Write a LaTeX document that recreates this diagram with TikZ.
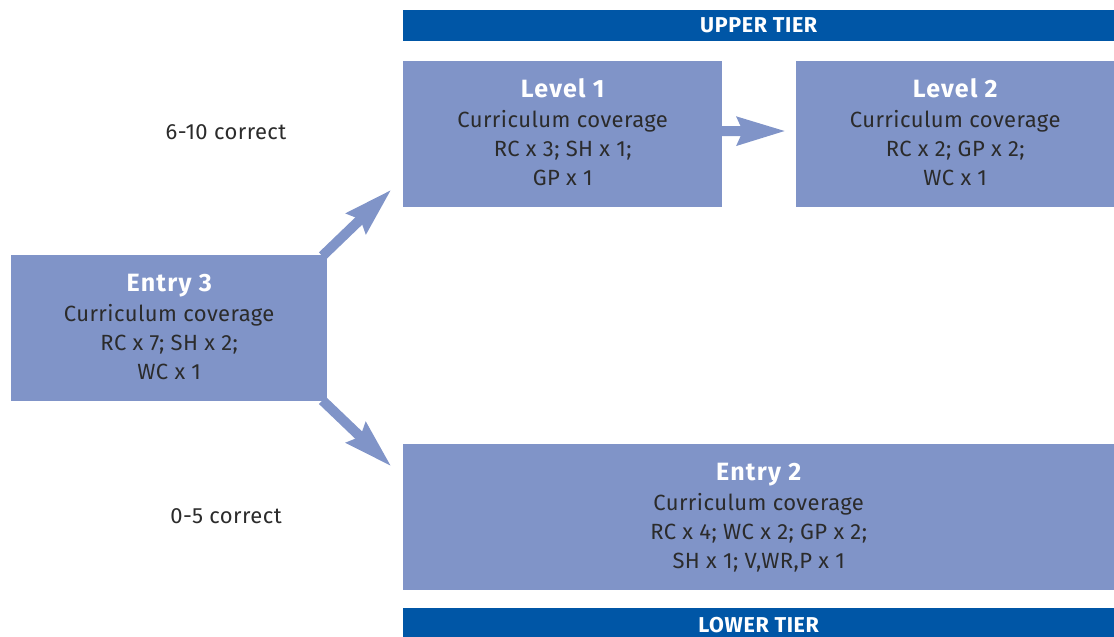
\documentclass[tikz,border=0pt]{standalone}
\usepackage{fontspec}
\setmainfont{Fira Sans}
\newfontfamily\bodyf[LetterSpace=2]{Fira Sans}
\newfontfamily\titlef[LetterSpace=5]{Fira Sans}
\newfontfamily\barf[LetterSpace=3]{Fira Sans}
\usetikzlibrary{arrows.meta}
\definecolor{boxblue}{RGB}{128,148,200}
\definecolor{barblue}{RGB}{0,86,166}
\definecolor{txtgray}{RGB}{43,43,43}
\tikzset{
  box/.style={fill=boxblue, draw=none, anchor=north west, align=center, text=txtgray,
    font=\bodyf\fontsize{22}{29}\selectfont, inner sep=0pt},
  bar/.style={fill=barblue, draw=none, anchor=north west, text=white,
    font=\barf\fontsize{21.5}{24}\selectfont\bfseries, inner sep=0pt},
  lbl/.style={text=txtgray, font=\bodyf\fontsize{22}{26}\selectfont},
  arr/.style={draw=boxblue, line width=10pt,
    -{Stealth[length=48pt, width=27pt, inset=5pt]}},
}
\newcommand{\ttl}[1]{\rule{0pt}{24pt}{\color{white}\titlef\fontsize{25}{30}\selectfont\bfseries #1}}
\newcommand{\lastl}[1]{#1\rule[-9.7pt]{0pt}{0pt}}
\begin{document}
\begin{tikzpicture}[x=1pt,y=-1pt]
\useasboundingbox (0,0) rectangle (1114,637);
\clip (0,0) rectangle (1114,637);
\node[bar, minimum width=711pt, minimum height=31pt] (ut) at (403,10) {UPPER TIER};
\node[bar, minimum width=711pt, minimum height=33pt] (lt) at (403,608) {LOWER TIER};
\node[box, minimum width=319pt, minimum height=146pt] (l1) at (403,61)
  {\ttl{Level 1}\\[1.4pt]Curriculum coverage\\RC x 3; SH x 1;\\\lastl{GP x 1}};
\node[box, minimum width=318pt, minimum height=146pt] (l2) at (796,61)
  {\ttl{Level 2}\\[1.4pt]Curriculum coverage\\RC x 2; GP x 2;\\\lastl{WC x 1}};
\node[box, minimum width=316pt, minimum height=146pt] (e3) at (11,255)
  {\ttl{Entry 3}\\[1.4pt]Curriculum coverage\\RC x 7; SH x 2;\\\lastl{WC x 1}};
\node[box, minimum width=711pt, minimum height=146pt] (e2) at (403,444)
  {\ttl{Entry 2}\\[1.4pt]Curriculum coverage\\RC x 4; WC x 2; GP x 2;\\\lastl{SH x 1; V,WR,P x 1}};
\node[lbl] (c1) at (226,132) {6-10 correct};
\node[lbl] (c2) at (226,516) {0-5 correct};
\coordinate (tu) at (391.5,189.5);
\coordinate (td) at (391.5,466.5);
\coordinate (t12) at (786,131);
\draw[arr] ([xshift=-5pt,yshift=-1pt]e3.north east) -- (tu);
\draw[arr] ([xshift=-5pt,yshift=1pt]e3.south east) -- (td);
\draw[arr] ([xshift=-1pt,yshift=3pt]l1.east) -- (t12);
\end{tikzpicture}
\end{document}
